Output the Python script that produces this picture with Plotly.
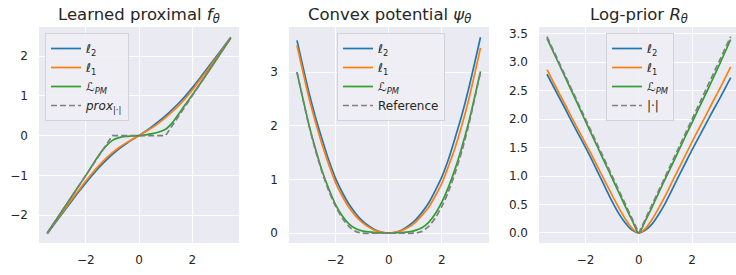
import plotly.graph_objects as go

W, H = 736, 275

# Sample abscissae
X = [-3.45, -3.0, -2.75, -2.5, -2.25, -2.0, -1.75, -1.5, -1.25, -1.0, -0.75, -0.5, -0.25, 0.0,
     0.25, 0.5, 0.75, 1.0, 1.25, 1.5, 1.75, 2.0, 2.25, 2.5, 2.75, 3.0, 3.45]

# Panel 1: learned proximal f_theta
f_l2 = [-2.47, -2.06, -1.84, -1.62, -1.40, -1.19, -0.99, -0.80, -0.63, -0.47, -0.33, -0.21, -0.10, 0.0,
        0.11, 0.23, 0.36, 0.50, 0.655, 0.82, 1.00, 1.20, 1.41, 1.63, 1.85, 2.07, 2.47]
f_l1 = [-2.46, -2.03, -1.81, -1.58, -1.36, -1.14, -0.94, -0.75, -0.58, -0.43, -0.30, -0.19, -0.09, 0.0,
        0.10, 0.20, 0.32, 0.45, 0.60, 0.76, 0.94, 1.14, 1.36, 1.58, 1.81, 2.04, 2.46]
f_pm = [-2.45, -2.00, -1.75, -1.50, -1.25, -1.00, -0.74, -0.48, -0.27, -0.12, -0.05, -0.02, -0.01, 0.0,
        0.02, 0.05, 0.09, 0.16, 0.32, 0.55, 0.79, 1.02, 1.26, 1.50, 1.75, 2.00, 2.45]
prox_x = [-3.45, -1.0, 1.0, 3.45]
prox_y = [-2.45, 0.0, 0.0, 2.45]

# Panel 2: convex potential psi_theta
psi_l2 = [3.59, 2.62, 2.15, 1.74, 1.35, 1.02, 0.76, 0.54, 0.37, 0.23, 0.13, 0.055, 0.013, 0.0,
          0.014, 0.058, 0.135, 0.24, 0.385, 0.56, 0.79, 1.05, 1.38, 1.78, 2.20, 2.68, 3.65]
psi_l1 = [3.50, 2.52, 2.06, 1.64, 1.27, 0.94, 0.69, 0.48, 0.32, 0.20, 0.11, 0.045, 0.011, 0.0,
          0.012, 0.048, 0.11, 0.20, 0.33, 0.48, 0.69, 0.93, 1.25, 1.60, 2.01, 2.47, 3.45]
psi_pm = [3.00, 2.02, 1.56, 1.15, 0.82, 0.53, 0.32, 0.17, 0.085, 0.04, 0.02, 0.008, 0.002, 0.0,
          0.002, 0.01, 0.02, 0.05, 0.10, 0.20, 0.36, 0.58, 0.86, 1.20, 1.60, 2.05, 3.01]
ref_x = [-3.45, -3.0, -2.75, -2.5, -2.25, -2.0, -1.75, -1.5, -1.25, -1.0, 0.0,
         1.0, 1.25, 1.5, 1.75, 2.0, 2.25, 2.5, 2.75, 3.0, 3.45]
ref_y = [3.00, 2.00, 1.53, 1.125, 0.78, 0.50, 0.28, 0.125, 0.031, 0.0, 0.0,
         0.0, 0.031, 0.125, 0.28, 0.50, 0.78, 1.125, 1.53, 2.00, 3.00]

# Panel 3: log-prior R_theta
R_l2 = [2.79, 2.39, 2.17, 1.94, 1.72, 1.50, 1.27, 1.03, 0.79, 0.55, 0.34, 0.17, 0.05, 0.0,
        0.05, 0.16, 0.33, 0.53, 0.76, 1.00, 1.23, 1.46, 1.68, 1.90, 2.12, 2.33, 2.73]
R_l1 = [2.87, 2.46, 2.24, 2.01, 1.79, 1.57, 1.35, 1.12, 0.89, 0.66, 0.44, 0.24, 0.08, 0.0,
        0.08, 0.24, 0.44, 0.66, 0.90, 1.13, 1.37, 1.60, 1.83, 2.05, 2.28, 2.50, 2.92]
R_pm = [3.42, 2.97, 2.72, 2.47, 2.22, 1.96, 1.71, 1.46, 1.21, 0.96, 0.71, 0.46, 0.22, 0.0,
        0.22, 0.46, 0.71, 0.96, 1.20, 1.45, 1.70, 1.94, 2.19, 2.43, 2.68, 2.93, 3.40]
abs_x = [-3.45, 0.0, 3.45]
abs_y = [3.45, 0.0, 3.45]

BLUE, ORANGE, GREEN, GRAY = "#1f77b4", "#ff7f0e", "#2ca02c", "#7f7f7f"
TXT = "#262626"
FONT = "DejaVu Sans"
LW = 1.7

L2 = "<i>ℓ</i><sub>2</sub>"
L1 = "<i>ℓ</i><sub>1</sub>"
LPM = "<i>ℒ</i><sub><i>PM</i></sub>"

fig = go.Figure()


def add(xs, ys, name, color, ax, leg, dash="solid", shape="spline"):
    fig.add_trace(go.Scatter(
        x=xs, y=ys, mode="lines", name=name,
        line=dict(color=color, width=LW, dash=dash, shape=shape, smoothing=0.8),
        xaxis="x" + ("" if ax == 1 else str(ax)),
        yaxis="y" + ("" if ax == 1 else str(ax)),
        legend=leg,
    ))


add(X, f_l2, L2, BLUE, 1, "legend")
add(X, f_l1, L1, ORANGE, 1, "legend")
add(X, f_pm, LPM, GREEN, 1, "legend")
add(prox_x, prox_y, "<i>prox</i><sub>|·|</sub>", GRAY, 1, "legend", dash="6px,3px", shape="linear")

add(X, psi_l2, L2, BLUE, 2, "legend2")
add(X, psi_l1, L1, ORANGE, 2, "legend2")
add(X, psi_pm, LPM, GREEN, 2, "legend2")
add(ref_x, ref_y, "Reference", GRAY, 2, "legend2", dash="6px,3px")

add(X, R_l2, L2, BLUE, 3, "legend3")
add(X, R_l1, L1, ORANGE, 3, "legend3")
add(X, R_pm, LPM, GREEN, 3, "legend3")
add(abs_x, abs_y, "|·|", GRAY, 3, "legend3", dash="6px,3px", shape="linear")

ytop = 1 - 27 / H
ybot = 1 - 243 / H

common = dict(showgrid=True, gridcolor="white", gridwidth=1, zeroline=False,
              showline=False, ticks="", automargin=False,
              tickfont=dict(size=12, color=TXT, family=FONT))

leg_common = dict(font=dict(size=12, color=TXT, family=FONT),
                  bgcolor="rgba(238,238,244,0.9)", bordercolor="#d2d2da", borderwidth=1,
                  xanchor="left", yanchor="top", itemwidth=30, tracegroupgap=0)

fig.update_layout(
    width=W, height=H,
    margin=dict(l=0, r=0, t=0, b=0, autoexpand=False),
    paper_bgcolor="white", plot_bgcolor="#EAEAF2",
    font=dict(family=FONT, color=TXT, size=12),
    showlegend=True,
    xaxis=dict(domain=[39 / W, 239 / W], range=[-3.76, 3.76], tickvals=[-2, 0, 2],
               ticklabelstandoff=8, anchor="y", **common),
    yaxis=dict(domain=[ybot, ytop], range=[-2.70, 2.73], tickvals=[-2, -1, 0, 1, 2],
               ticklabelstandoff=10, anchor="x", **common),
    xaxis2=dict(domain=[289 / W, 489 / W], range=[-3.75, 3.77], tickvals=[-2, 0, 2],
                ticklabelstandoff=8, anchor="y2", **common),
    yaxis2=dict(domain=[ybot, ytop], range=[-0.186, 3.84], tickvals=[0, 1, 2, 3],
                ticklabelstandoff=10, anchor="x2", **common),
    xaxis3=dict(domain=[539 / W, 1.0], range=[-3.75, 3.65], tickvals=[-2, 0, 2],
                ticklabelstandoff=8, anchor="y3", **common),
    yaxis3=dict(domain=[ybot, ytop], range=[-0.176, 3.62],
                tickvals=[0, 0.5, 1, 1.5, 2, 2.5, 3, 3.5], tickformat=".1f",
                ticklabelstandoff=10, anchor="x3", **common),
    legend=dict(x=45 / W, y=1 - 33 / H, **leg_common),
    legend2=dict(x=337 / W, y=1 - 33 / H, **leg_common),
    legend3=dict(x=606 / W, y=1 - 33 / H, **leg_common),
)

titles = [("Learned proximal <i>f</i><sub><i>θ</i></sub>", 139),
          ("Convex potential <i>ψ</i><sub><i>θ</i></sub>", 389),
          ("Log-prior <i>R</i><sub><i>θ</i></sub>", 639)]
for t, cx in titles:
    fig.add_annotation(text=t, x=cx / W, y=ytop, xref="paper", yref="paper",
                       xanchor="center", yanchor="bottom", yshift=-1, showarrow=False,
                       font=dict(size=16.5, color=TXT, family=FONT))

fig.write_html("out.html", config={"displayModeBar": False},
               post_script="document.body.style.margin='0';document.body.style.overflow='hidden';")
